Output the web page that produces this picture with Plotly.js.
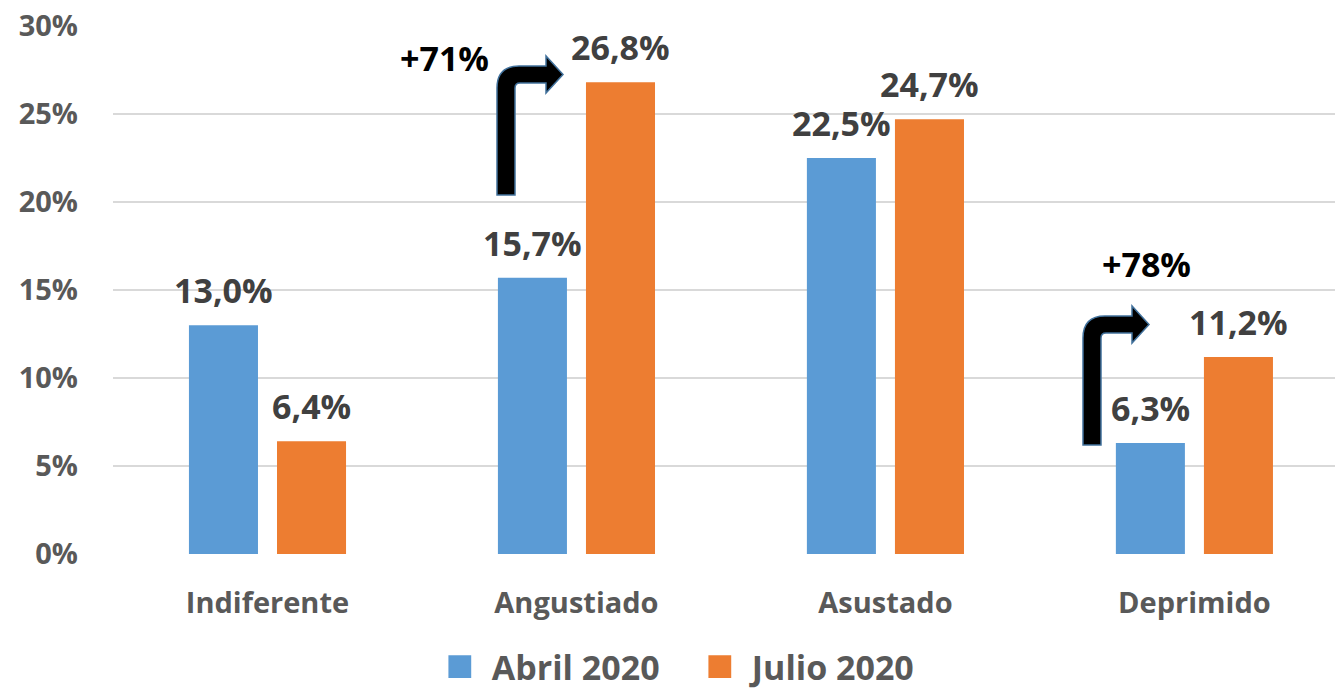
<!DOCTYPE html>
<html><head><meta charset="utf-8">
<script src="https://cdn.plot.ly/plotly-3.0.1.min.js"></script>
<style>html,body{margin:0;padding:0;background:#fff}#chart{width:1335px;height:690px}</style>
</head><body><div id="chart"></div><script>
const categories = ['Indiferente', 'Angustiado', 'Asustado', 'Deprimido'];
const abril2020 = [13.0, 15.7, 22.5, 6.3];
const julio2020 = [6.4, 26.8, 24.7, 11.2];
const seriesNames = ['Abril 2020', 'Julio 2020'];
const yTickVals = [0, 5, 10, 15, 20, 25, 30];
const yTickText = yTickVals.map(v => v + '%');

const W = 1335, H = 690, ML = 113, MR = 0, MT = 26, MB = 136;
const PW = W - ML - MR, PH = H - MT - MB;
const fx = px => (px - ML) / PW;
const fy = py => (H - MB - py) / PH;
const FONT = '"Open Sans", "Noto Sans", sans-serif';

function arrowPath(x0, yb) {
  const w = 18, top = yb - 129, band = 17, Ro = 22, ri = 5, hb = x0 + 49, tip = x0 + 66;
  const p = (x, y) => fx(x).toFixed(5) + ',' + fy(y).toFixed(5);
  return 'M' + p(x0, yb) +
    ' L' + p(x0, top + Ro) +
    ' Q' + p(x0, top) + ' ' + p(x0 + Ro, top) +
    ' L' + p(hb, top) +
    ' L' + p(hb, top - 10) +
    ' L' + p(tip, top + band / 2) +
    ' L' + p(hb, top + band + 10) +
    ' L' + p(hb, top + band) +
    ' L' + p(x0 + w + ri, top + band) +
    ' Q' + p(x0 + w, top + band) + ' ' + p(x0 + w, top + band + ri) +
    ' L' + p(x0 + w, yb) + ' Z';
}

const pct = (a, b) => '+' + Math.round((b / a - 1) * 100) + '%';
const fmt = v => v.toFixed(1).replace('.', ',') + '%';

const labelFont = {family: FONT, size: 34, color: '#404040', weight: 'bold'};

const traces = [
  {type: 'bar', name: seriesNames[0], x: categories, y: abril2020,
   marker: {color: '#5b9bd5'}, hoverinfo: 'none'},
  {type: 'bar', name: seriesNames[1], x: categories, y: julio2020,
   marker: {color: '#ed7d31'}, hoverinfo: 'none'}
];

const barLabels = [];
[abril2020, julio2020].forEach((series, si) => {
  series.forEach((v, i) => {
    barLabels.push({xref: 'x', yref: 'y', x: categories[i], y: v, text: fmt(v),
      xanchor: 'center', yanchor: 'bottom', xshift: si === 0 ? -44 : 44, yshift: 10,
      showarrow: false, font: labelFont});
  });
});

const layout = {
  width: W, height: H,
  margin: {l: ML, r: MR, t: MT, b: MB, pad: 0, autoexpand: false},
  paper_bgcolor: '#ffffff', plot_bgcolor: '#ffffff',
  font: {family: FONT, color: '#595959', weight: 'bold'},
  barmode: 'group', bargap: 0.43, bargroupgap: 0.216,
  xaxis: {type: 'category', range: [-0.5, 3.455], showgrid: false, zeroline: false,
    showline: false, ticks: '', tickfont: {family: FONT, size: 29, color: '#595959', weight: 'bold'},
    ticklabelstandoff: 29},
  yaxis: {range: [0, 30], tickvals: yTickVals, ticktext: yTickText, showgrid: true,
    gridcolor: '#d9d9d9', gridwidth: 2, zeroline: false, showline: false, ticks: '',
    tickfont: {family: FONT, size: 29, color: '#595959', weight: 'bold'},
    ticklabelstandoff: 34},
  showlegend: true,
  legend: {orientation: 'h', xref: 'container', yref: 'container',
    x: 0.5287, xanchor: 'center', y: (H - 667) / H, yanchor: 'middle',
    font: {family: FONT, size: 34, color: '#595959', weight: 'bold'}, itemwidth: 30,
    entrywidth: 215, entrywidthmode: 'pixels',
    traceorder: 'normal', tracegroupgap: 0},
  annotations: barLabels.concat([
    {xref: 'paper', yref: 'paper', x: fx(444), y: fy(58), xanchor: 'center', yanchor: 'middle',
     text: pct(abril2020[1], julio2020[1]),
     showarrow: false, font: {family: FONT, size: 34, color: '#000000', weight: 'bold'}},
    {xref: 'paper', yref: 'paper', x: fx(1146), y: fy(264), xanchor: 'center', yanchor: 'middle',
     text: pct(abril2020[3], julio2020[3]),
     showarrow: false, font: {family: FONT, size: 34, color: '#000000', weight: 'bold'}}
  ]),
  shapes: [
    {type: 'path', xref: 'paper', yref: 'paper', path: arrowPath(497, 195),
     fillcolor: '#000000', line: {color: '#41719c', width: 1.5}, layer: 'above'},
    {type: 'path', xref: 'paper', yref: 'paper', path: arrowPath(1083, 445),
     fillcolor: '#000000', line: {color: '#41719c', width: 1.5}, layer: 'above'}
  ]
};

Plotly.newPlot('chart', traces, layout, {displayModeBar: false, staticPlot: true}).then(gd => {
  gd.querySelectorAll('.legendpoints path').forEach(p => {
    const bb = p.getBBox();
    if (bb.width > 8 && bb.height > 8) {
      const t = p.getAttribute('transform') || '';
      p.setAttribute('transform', t + ' translate(-6,0) scale(1.9)');
    }
  });
  gd.querySelectorAll('.legend .legendtext').forEach(t => {
    const x = parseFloat(t.getAttribute('x') || '40');
    t.setAttribute('x', x + 6);
  });
});
</script></body></html>
